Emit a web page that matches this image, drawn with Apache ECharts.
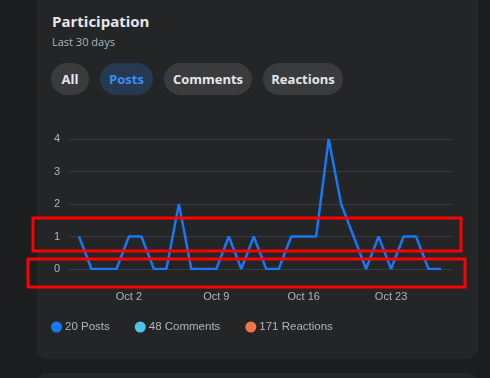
<!DOCTYPE html>
<html>
<head>
<meta charset="utf-8">
<script src="https://cdn.jsdelivr.net/npm/echarts@6/dist/echarts.min.js"></script>
<style>
  html, body { margin: 0; padding: 0; width: 490px; height: 378px; overflow: hidden; background: #1c1d1f; font-family: "Segoe UI", "Open Sans", "Noto Sans", sans-serif; }
  .card { position: absolute; left: 37px; top: -12px; width: 441px; height: 371px; background: #242527; border-radius: 10px; }
  .card2 { position: absolute; left: 37px; top: 373px; width: 441px; height: 60px; background: #242527; border-radius: 10px; }
  .title { position: absolute; left: 52px; top: 11px; font-size: 15px; font-weight: 700; color: #e4e6eb; }
  .sub { position: absolute; left: 52px; top: 34px; font-size: 11px; color: #b0b3b8; }
  .btn { position: absolute; top: 63px; height: 32px; line-height: 32px; border-radius: 16px; background: #3a3b3d; color: #e4e6eb; font-size: 13px; font-weight: 700; text-align: center; }
  .btn.on { background: #263951; color: #3b8cf5; }
  #chart { position: absolute; left: 0; top: 0; width: 490px; height: 378px; }
</style>
</head>
<body>
<div class="card"></div>
<div class="card2"></div>
<div class="title">Participation</div>
<div class="sub">Last 30 days</div>
<div class="btn" style="left:51px;width:38px;">All</div>
<div class="btn on" style="left:100px;width:53px;">Posts</div>
<div class="btn" style="left:164px;width:88px;">Comments</div>
<div class="btn" style="left:263px;width:80px;">Reactions</div>
<div id="chart"></div>
<script>
// Sep 28 .. Oct 27
var days = [
  'Sep 28', 'Sep 29', 'Sep 30', 'Oct 1', 'Oct 2', 'Oct 3', 'Oct 4', 'Oct 5', 'Oct 6', 'Oct 7',
  'Oct 8', 'Oct 9', 'Oct 10', 'Oct 11', 'Oct 12', 'Oct 13', 'Oct 14', 'Oct 15', 'Oct 16', 'Oct 17',
  'Oct 18', 'Oct 19', 'Oct 20', 'Oct 21', 'Oct 22', 'Oct 23', 'Oct 24', 'Oct 25', 'Oct 26', 'Oct 27'
];
var posts = [1, 0, 0, 0, 1, 1, 0, 0, 2, 0, 0, 0, 1, 0, 1, 0, 0, 1, 1, 1, 4, 2, 1, 0, 1, 0, 1, 1, 0, 0];
var shownLabels = ['Oct 2', 'Oct 9', 'Oct 16', 'Oct 23'];
var yTicks = [0, 1, 2, 3, 4];
var legendNames = ['20 Posts', '48 Comments', '171 Reactions'];
var legendColors = ['#1877f2', '#4fc3eb', '#f5734a'];

var myChart = echarts.init(document.getElementById('chart'));

var series = [{
  name: legendNames[0],
  type: 'line',
  data: posts,
  symbol: 'none',
  color: legendColors[0],
  lineStyle: { width: 2.5, color: legendColors[0] }
}, {
  name: legendNames[1], type: 'line', data: [], color: legendColors[1]
}, {
  name: legendNames[2], type: 'line', data: [], color: legendColors[2]
}];

var option = {
  backgroundColor: 'transparent',
  animation: false,
  grid: [
    // plot area for the line (points run edge to edge)
    { left: 79, right: 49, top: 139, height: 130 },
    // wider area that only carries the y labels and the split lines
    { left: 69, right: 38, top: 139, height: 130 }
  ],
  xAxis: [{
    type: 'category',
    gridIndex: 0,
    data: days,
    boundaryGap: false,
    axisLine: { show: false },
    axisTick: { show: false },
    axisLabel: {
      interval: 0,
      color: '#b0b3b8',
      fontSize: 11,
      margin: 22,
      formatter: function (v) { return shownLabels.indexOf(v) >= 0 ? v : ''; }
    }
  }, {
    type: 'value', gridIndex: 1, show: false
  }],
  yAxis: [{
    type: 'value', gridIndex: 0,
    min: yTicks[0], max: yTicks[yTicks.length - 1], interval: 1,
    show: false
  }, {
    type: 'value', gridIndex: 1,
    min: yTicks[0], max: yTicks[yTicks.length - 1], interval: 1,
    axisLine: { show: false },
    axisTick: { show: false },
    axisLabel: { color: '#b0b3b8', fontSize: 11, margin: 9 },
    splitLine: { lineStyle: { color: '#3a3b3e', width: 1 } }
  }],
  legend: {
    left: 46, top: 316,
    icon: 'circle',
    itemWidth: 11, itemHeight: 11, itemGap: 25,
    textStyle: { color: '#b0b3b8', fontSize: 11.5, padding: [0, 0, 0, -2] },
    data: legendNames
  },
  graphic: [
    { type: 'rect', shape: { x: 33, y: 218, width: 428, height: 33 }, style: { fill: 'none', stroke: '#ff0000', lineWidth: 3 }, z: 100 },
    { type: 'rect', shape: { x: 28, y: 259, width: 437, height: 28 }, style: { fill: 'none', stroke: '#ff0000', lineWidth: 3 }, z: 100 }
  ],
  series: series
};

myChart.setOption(option);
</script>
</body>
</html>
